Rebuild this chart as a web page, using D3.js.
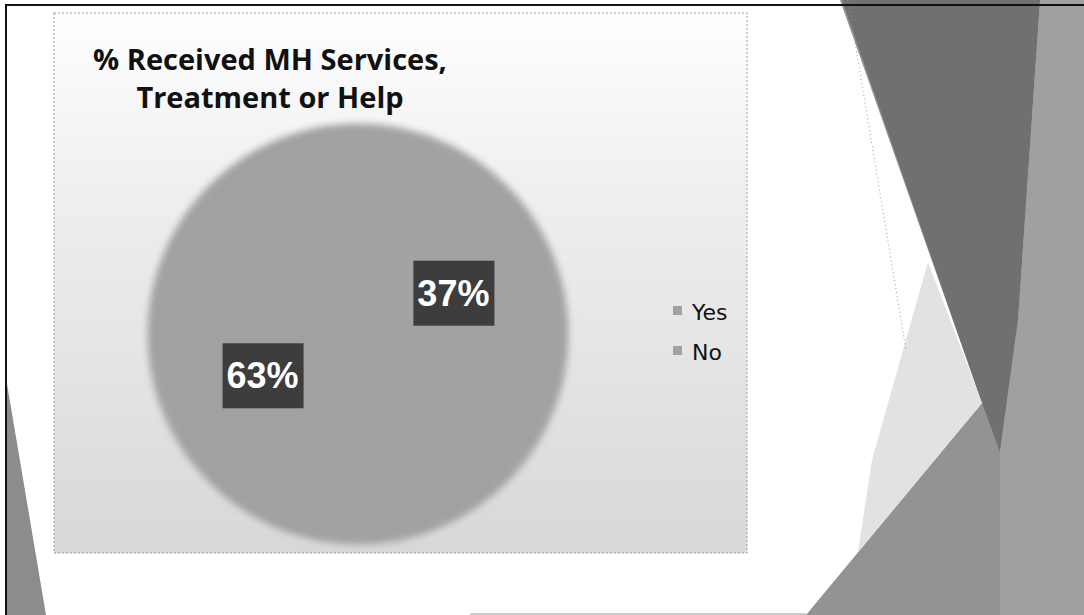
<!doctype html>
<html>
<head>
<meta charset="utf-8">
<style>
  html, body { margin: 0; padding: 0; background: #fff; }
  svg { display: block; }
</style>
<script src="https://d3js.org/d3.v7.min.js"></script>
</head>
<body>
<svg width="1084" height="615"></svg>
<script>
// chart data
var categories = ["Yes", "No"];
var values = [37, 63];
var valueLabels = ["37%", "63%"];
var titleLines = ["% Received MH Services,", "Treatment or Help"];

var svg = d3.select("svg");
var defs = svg.append("defs");

// chart area background: white at top, light grey at the bottom
var bg = defs.append("linearGradient").attr("id", "areaFill")
    .attr("x1", 0).attr("y1", 0).attr("x2", 0).attr("y2", 1);
bg.append("stop").attr("offset", "0%").attr("stop-color", "#ffffff");
bg.append("stop").attr("offset", "30%").attr("stop-color", "#f0f0f0");
bg.append("stop").attr("offset", "100%").attr("stop-color", "#d8d8d8");

defs.append("filter").attr("id", "soft")
    .attr("x", "-10%").attr("y", "-10%").attr("width", "120%").attr("height", "120%")
  .append("feGaussianBlur").attr("stdDeviation", 3.5);

// slide decoration (the page behind the chart)
var deco = svg.append("g");
deco.append("polygon")      // right band, mid grey
    .attr("points", "840,0 1084,0 1084,615 806,615 982,403")
    .attr("fill", "#939393");
deco.append("polygon")      // dark wedge
    .attr("points", "842,0 1040,0 1018,320 1000,452 982,403")
    .attr("fill", "#707070");
deco.append("polygon")      // lighter right strip
    .attr("points", "1040,0 1084,0 1084,615 1000,615 1000,452 1018,320")
    .attr("fill", "#a0a0a0");
deco.append("polygon")      // pale facet left of the tip
    .attr("points", "928,262 982,403 858,552 872,460")
    .attr("fill", "#e2e2e2");
deco.append("line")
    .attr("x1", 848).attr("y1", 0).attr("x2", 906).attr("y2", 350)
    .attr("stroke", "#999").attr("stroke-width", 1).attr("stroke-dasharray", "1,3");
deco.append("polygon")      // left bottom sliver
    .attr("points", "6,378 6,615 46,615")
    .attr("fill", "#8c8c8c");
// frame of the scanned slide
deco.append("polyline")
    .attr("points", "1084,5 6,5 6,615")
    .attr("fill", "none").attr("stroke", "#111").attr("stroke-width", 2);
deco.append("line")
    .attr("x1", 470).attr("y1", 614).attr("x2", 806).attr("y2", 614)
    .attr("stroke", "#bbb").attr("stroke-width", 1.5);

// chart area
svg.append("rect")
    .attr("x", 54).attr("y", 13).attr("width", 693).attr("height", 540)
    .attr("fill", "url(#areaFill)")
    .attr("stroke", "#9a9a9a").attr("stroke-width", 1).attr("stroke-dasharray", "2,2");

// title
svg.append("text")
    .attr("x", 270).attr("y", 70)
    .attr("text-anchor", "middle")
    .attr("font-family", "'Open Sans', 'DejaVu Sans', sans-serif")
    .attr("font-weight", "bold")
    .attr("font-size", "29px")
    .attr("fill", "#111")
  .selectAll("tspan").data(titleLines).enter().append("tspan")
    .attr("x", 270).attr("dy", function(d, i) { return i === 0 ? 0 : 38; })
    .text(function(d) { return d; });

// pie
var cx = 358, cy = 334, radius = 210;
var data = categories.map(function(c, i) { return { name: c, value: values[i], label: valueLabels[i] }; });

var color = d3.scaleOrdinal().domain(categories).range(["#a2a2a2", "#a1a1a1"]);
var pie = d3.pie().sort(null).value(function(d) { return d.value; });
var arc = d3.arc().innerRadius(0).outerRadius(radius);
var labelArc = d3.arc().innerRadius(0).outerRadius(radius * 0.99);

var g = svg.append("g").attr("transform", "translate(" + cx + "," + cy + ")");

g.append("g").attr("filter", "url(#soft)")
  .selectAll("path")
  .data(pie(data))
  .enter().append("path")
    .attr("d", arc)
    .attr("fill", function(d) { return color(d.data.name); })
    .attr("stroke", function(d) { return color(d.data.name); })
    .attr("stroke-width", 1);

var lab = g.selectAll(".lab")
  .data(pie(data))
  .enter().append("g")
    .attr("class", "lab")
    .attr("transform", function(d) { return "translate(" + labelArc.centroid(d) + ")"; });

lab.append("rect")
    .attr("x", -40).attr("y", -32).attr("width", 81).attr("height", 65)
    .attr("fill", "#3d3d3d");
lab.append("text")
    .attr("text-anchor", "middle")
    .attr("y", 13)
    .attr("font-family", "'Liberation Sans', Arial, sans-serif")
    .attr("font-weight", "bold")
    .attr("font-size", "36px")
    .attr("fill", "#fff")
    .text(function(d) { return d.data.label; });

// legend
var legend = svg.append("g").attr("transform", "translate(673,306)");
var item = legend.selectAll("g")
  .data(categories)
  .enter().append("g")
    .attr("transform", function(d, i) { return "translate(0," + i * 40 + ")"; });
item.append("rect")
    .attr("width", 9).attr("height", 9)
    .attr("fill", function(d) { return color(d); });
item.append("text")
    .attr("x", 19).attr("y", 14)
    .attr("font-family", "'DejaVu Sans', sans-serif")
    .attr("font-size", "22px")
    .attr("fill", "#111")
    .text(function(d) { return d; });
</script>
</body>
</html>
